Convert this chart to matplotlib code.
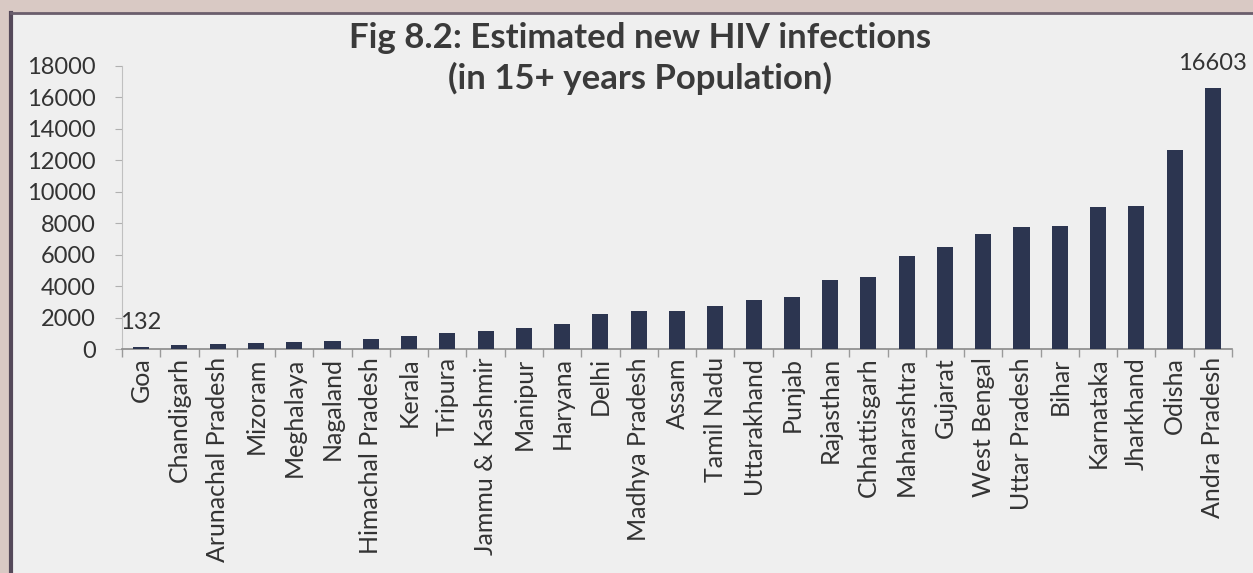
import numpy as np
import matplotlib
matplotlib.use('Agg')
import matplotlib.pyplot as plt
from matplotlib.patches import Rectangle

## States, sorted by estimated new infections
states = ['Goa', 'Chandigarh', 'Arunachal Pradesh', 'Mizoram', 'Meghalaya',
          'Nagaland', 'Himachal Pradesh', 'Kerala', 'Tripura', 'Jammu & Kashmir',
          'Manipur', 'Haryana', 'Delhi', 'Madhya Pradesh', 'Assam', 'Tamil Nadu',
          'Uttarakhand', 'Punjab', 'Rajasthan', 'Chhattisgarh', 'Maharashtra',
          'Gujarat', 'West Bengal', 'Uttar Pradesh', 'Bihar', 'Karnataka',
          'Jharkhand', 'Odisha', 'Andra Pradesh']
infections = [132, 270, 300, 360, 450, 540, 620, 810, 1000, 1150,
              1330, 1580, 2250, 2400, 2420, 2740, 3100, 3320, 4400, 4580,
              5920, 6500, 7320, 7760, 7820, 9030, 9100, 12660, 16603]
yticks = [0, 2000, 4000, 6000, 8000, 10000, 12000, 14000, 16000, 18000]

plt.rcParams['font.family'] = ['Lato', 'DejaVu Sans']

W, H = 1253, 573
fig = plt.figure(figsize=(W / 100, H / 100), dpi=100)
fig.patch.set_facecolor('#d9c9c4')

## Inner panel with dark frame
fig.patches.append(Rectangle((11 / W, 0), 1 - 11 / W, 1 - 13 / H, transform=fig.transFigure,
                             facecolor='#efefef', edgecolor='none', zorder=-5))
fig.lines.append(plt.Line2D([11 / W, 11 / W], [0, 1 - 13 / H], transform=fig.transFigure,
                            color='#55495a', lw=3, zorder=-4))
fig.lines.append(plt.Line2D([11 / W, 1], [1 - 13 / H, 1 - 13 / H], transform=fig.transFigure,
                            color='#6a5e6c', lw=2, zorder=-4))

ax = fig.add_axes([122 / W, 1 - 349 / H, (1232 - 122) / W, (349 - 66) / H])
ax.set_facecolor('none')

x = np.arange(len(states))
ax.bar(x, infections, width=0.42, color='#2c3550', zorder=3)

ax.set_xlim(-0.5, len(states) - 0.5)
ax.set_ylim(0, 18000)
ax.set_yticks(yticks)
ax.set_yticklabels([str(v) for v in yticks], fontsize=17, color='#333333')
ax.set_xticks(x)
ax.set_xticklabels(states, rotation=90, fontsize=18, color='#333333')
ax.tick_params(axis='x', length=0, pad=6)
ax.set_xticks(np.arange(-0.5, len(states) + 0.5, 1), minor=True)
ax.tick_params(axis='x', which='minor', length=6, color='#9a9a9a', width=1)
ax.tick_params(axis='y', length=5, color='#b0b0b0', pad=14)

for s in ['top', 'right']:
    ax.spines[s].set_visible(False)
ax.spines['left'].set_color('#c0c0c0')
ax.spines['bottom'].set_color('#8a8a8a')
ax.spines['bottom'].set_linewidth(1.2)

## Data labels for first and last bar
for i in [0, len(states) - 1]:
    ax.annotate(str(infections[i]), (x[i], infections[i]), xytext=(0, 13),
                textcoords='offset points', ha='center', va='baseline',
                fontsize=17, color='#333333')

fig.text(640 / W, 1 - 38 / H, 'Fig 8.2: Estimated new HIV infections',
         ha='center', va='center', fontsize=25, fontweight='bold', color='#3a3a3a')
fig.text(640 / W, 1 - 78 / H, '(in 15+ years Population)',
         ha='center', va='center', fontsize=25, fontweight='bold', color='#3a3a3a')

fig.savefig('out.png', dpi=100, facecolor=fig.get_facecolor())
